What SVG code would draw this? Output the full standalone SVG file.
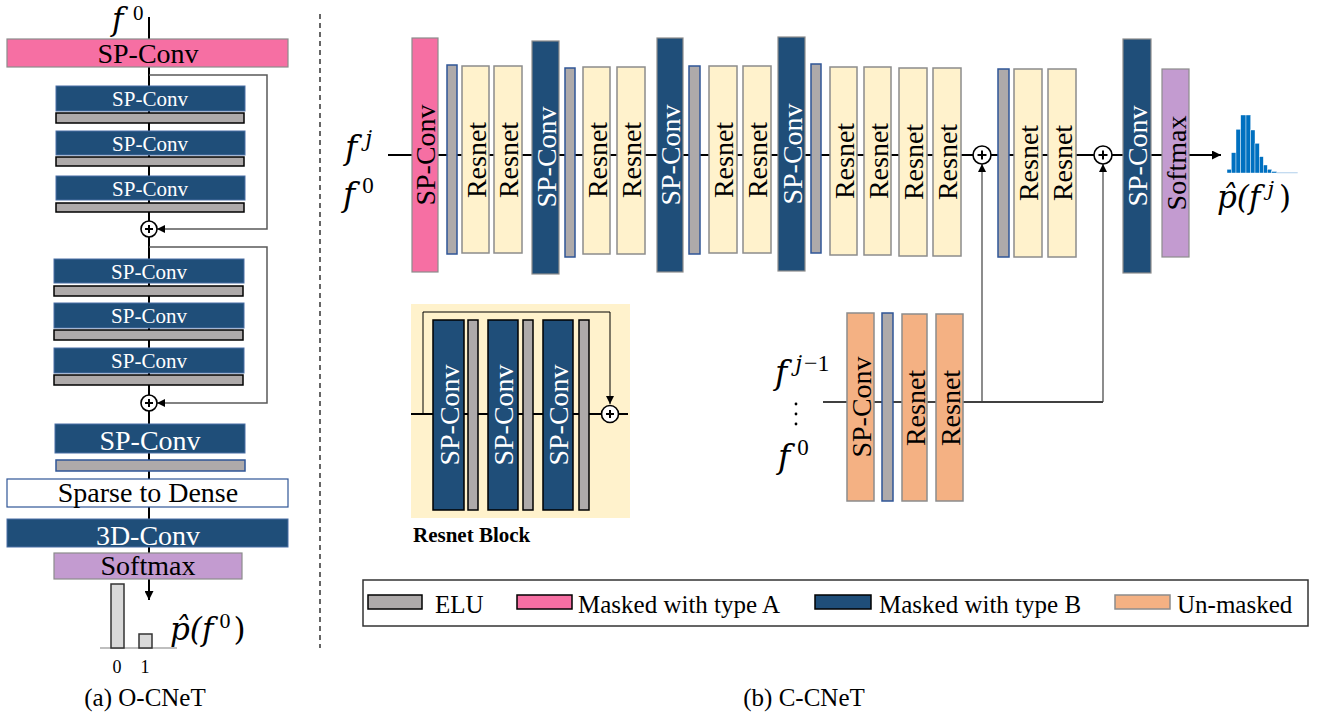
<svg xmlns="http://www.w3.org/2000/svg" width="1318" height="719" viewBox="0 0 1318 719">
<defs>
<marker id="arr" viewBox="0 0 10 10" refX="10" refY="5" markerWidth="10" markerHeight="9" markerUnits="userSpaceOnUse" orient="auto"><path d="M0,0 L10,5 L0,10 z" fill="#000"/></marker>
<marker id="arrs" viewBox="0 0 10 10" refX="10" refY="5" markerWidth="9" markerHeight="8" markerUnits="userSpaceOnUse" orient="auto"><path d="M0,0 L10,5 L0,10 z" fill="#000"/></marker>
</defs>
<style>
text{font-family:"Liberation Serif","Times New Roman",serif;}
.pink{fill:#f66fa3;stroke:#8c8c8c;stroke-width:1.2}
.blueL{fill:#1f4e79;stroke:#4a6fa5;stroke-width:1}
.blueR{fill:#1f4e79;stroke:#8c8c8c;stroke-width:1.2}
.blueK{fill:#1f4e79;stroke:#000;stroke-width:1.5}
.eluK{fill:#aeaaaa;stroke:#000;stroke-width:1.5}
.eluB{fill:#aeaaaa;stroke:#2f5597;stroke-width:1.5}
.res{fill:#fff2cc;stroke:#8c8c8c;stroke-width:1.5}
.soft{fill:#c39bd0;stroke:#8c8c8c;stroke-width:1.2}
.org{fill:#f4b183;stroke:#8c8c8c;stroke-width:1.5}
.lbl{font-size:28px;fill:#000;text-anchor:middle}
.lblw{font-size:28px;fill:#fff;text-anchor:middle}
.sm{font-size:21px;fill:#fff;text-anchor:middle}
.v{font-size:28px;fill:#000;text-anchor:middle;dominant-baseline:central}
.vw{font-size:28px;fill:#fff;text-anchor:middle;dominant-baseline:central}
text.math{font-family:"DejaVu Serif","Liberation Serif",serif;font-style:italic;fill:#000}
.up{font-family:"Liberation Serif",serif;font-style:normal}
.leg{font-size:25px;fill:#000}
.cap{font-size:25px;fill:#000;text-anchor:middle}
.plus circle{fill:#fff;stroke:#000;stroke-width:1.6}
.plus path{stroke:#000;stroke-width:2}
.main{stroke:#000;stroke-width:2;fill:none}
.skip{stroke:#595959;stroke-width:1.5;fill:none}
.thin{stroke:#404040;stroke-width:1.2;fill:none}
</style>
<rect width="1318" height="719" fill="#fff"/>

<!-- connectors -->
<g id="connectors">
<line class="main" x1="149" y1="17" x2="149" y2="600" marker-end="url(#arr)"/>
<polyline class="skip" points="149,75 267,75 267,229 157,229" marker-end="url(#arrs)"/>
<polyline class="skip" points="149,247 267,247 267,403 157,403" marker-end="url(#arrs)"/>
<line class="main" x1="388" y1="155" x2="1221" y2="155" marker-end="url(#arr)"/>
<line class="main" x1="823" y1="402" x2="1103" y2="402" style="stroke-width:1.6"/>
<line class="thin" x1="982" y1="402" x2="982" y2="164" marker-end="url(#arrs)"/>
<line class="thin" x1="1103" y1="402" x2="1103" y2="164" marker-end="url(#arrs)"/>
<line x1="320" y1="14" x2="320" y2="648" stroke="#000" stroke-width="1.2" stroke-dasharray="5 4"/>
</g>

<!-- Left panel: O-CNeT -->
<g id="a-title"><text class="math" x="112" y="30" font-size="31">f</text><text x="133" y="20" font-size="21">0</text></g>
<g id="a-spconv-top"><rect class="pink" x="7" y="39" width="281" height="28"/><text class="lbl" x="148" y="63">SP-Conv</text></g>
<g id="a-sp1"><rect class="blueL" x="56" y="86" width="189" height="25"/><text class="sm" x="150" y="106">SP-Conv</text></g>
<g id="a-elu1"><rect class="eluK" x="56" y="113" width="188" height="10"/></g>
<g id="a-sp2"><rect class="blueL" x="56" y="131" width="189" height="24"/><text class="sm" x="150" y="151">SP-Conv</text></g>
<g id="a-elu2"><rect class="eluK" x="56" y="157" width="188" height="9"/></g>
<g id="a-sp3"><rect class="blueL" x="56" y="176" width="189" height="24"/><text class="sm" x="150" y="196">SP-Conv</text></g>
<g id="a-elu3"><rect class="eluK" x="56" y="203" width="188" height="9"/></g>
<g id="a-plus1" class="plus"><circle cx="149" cy="229" r="8"/><path d="M145,229 H153 M149,225 V233"/></g>
<g id="a-sp4"><rect class="blueL" x="54" y="259" width="190" height="24"/><text class="sm" x="149" y="279">SP-Conv</text></g>
<g id="a-elu4"><rect class="eluK" x="54" y="286" width="189" height="10"/></g>
<g id="a-sp5"><rect class="blueL" x="54" y="303" width="190" height="25"/><text class="sm" x="149" y="323">SP-Conv</text></g>
<g id="a-elu5"><rect class="eluK" x="54" y="330" width="189" height="10"/></g>
<g id="a-sp6"><rect class="blueL" x="54" y="348" width="190" height="25"/><text class="sm" x="149" y="368">SP-Conv</text></g>
<g id="a-elu6"><rect class="eluK" x="54" y="375" width="189" height="10"/></g>
<g id="a-plus2" class="plus"><circle cx="149" cy="403" r="8"/><path d="M145,403 H153 M149,399 V407"/></g>
<g id="a-sp7"><rect class="blueL" x="55" y="424" width="190" height="29"/><text class="lblw" x="150" y="450">SP-Conv</text></g>
<g id="a-elu7"><rect class="eluB" x="56" y="460" width="189" height="11"/></g>
<g id="a-s2d"><rect x="7" y="479" width="281" height="28" fill="#fff" stroke="#2f5597" stroke-width="1.2"/><text class="lbl" x="148" y="502">Sparse to Dense</text></g>
<g id="a-3d"><rect class="blueL" x="7" y="519" width="281" height="28"/><text class="lblw" x="148" y="545">3D-Conv</text></g>
<g id="a-softmax"><rect class="soft" x="54" y="553" width="188" height="26"/><text class="lbl" x="148" y="575">Softmax</text></g>
<g id="a-hist">
<line x1="100" y1="648" x2="177" y2="648" stroke="#808080" stroke-width="1.2"/>
<rect x="111" y="584" width="13" height="64" fill="#d9d9d9" stroke="#333" stroke-width="1.5"/>
<rect x="139" y="634" width="13" height="14" fill="#d9d9d9" stroke="#333" stroke-width="1.5"/>
<text x="117" y="673" font-size="18" text-anchor="middle">0</text>
<text x="145" y="673" font-size="18" text-anchor="middle">1</text>
</g>
<g id="a-out"><text class="math" x="170" y="640" font-size="31">p̂(f<tspan class="up" font-size="22" dx="6" dy="-12">0</tspan><tspan dx="3" dy="12" font-style="normal">)</tspan></text></g>
<g id="a-caption"><text class="cap" x="145" y="706">(a) O-CNeT</text></g>

<!-- Right panel: C-CNeT main row -->
<g id="b-in"><text class="math" x="345" y="159" font-size="33">f<tspan font-size="22" dx="8" dy="-13">j</tspan></text>
<text class="math" x="343" y="206" font-size="33">f<tspan class="up" font-size="23" dx="7" dy="-13">0</tspan></text></g>
<g id="b-sp0"><rect class="pink" x="412" y="38" width="26" height="234"/><text class="v" transform="translate(425,155) rotate(-90)">SP-Conv</text></g>
<g id="b-elu0"><rect class="eluB" x="447" y="65" width="10" height="189"/></g>
<g id="b-r1"><rect class="res" x="462" y="66" width="27" height="187"/><text class="v" transform="translate(476,160) rotate(-90)">Resnet</text></g>
<g id="b-r2"><rect class="res" x="494" y="66" width="28" height="187"/><text class="v" transform="translate(508,160) rotate(-90)">Resnet</text></g>
<g id="b-sp1"><rect class="blueR" x="532" y="41" width="27" height="233"/><text class="vw" transform="translate(546,157) rotate(-90)">SP-Conv</text></g>
<g id="b-elu1"><rect class="eluB" x="565" y="68" width="10" height="189"/></g>
<g id="b-r3"><rect class="res" x="583" y="67" width="27" height="187"/><text class="v" transform="translate(597,160) rotate(-90)">Resnet</text></g>
<g id="b-r4"><rect class="res" x="617" y="67" width="28" height="187"/><text class="v" transform="translate(631,160) rotate(-90)">Resnet</text></g>
<g id="b-sp2"><rect class="blueR" x="657" y="38" width="26" height="234"/><text class="vw" transform="translate(670,155) rotate(-90)">SP-Conv</text></g>
<g id="b-elu2"><rect class="eluB" x="689" y="66" width="11" height="188"/></g>
<g id="b-r5"><rect class="res" x="709" y="66" width="28" height="187"/><text class="v" transform="translate(723,160) rotate(-90)">Resnet</text></g>
<g id="b-r6"><rect class="res" x="743" y="66" width="28" height="187"/><text class="v" transform="translate(757,160) rotate(-90)">Resnet</text></g>
<g id="b-sp3"><rect class="blueR" x="778" y="37" width="27" height="234"/><text class="vw" transform="translate(792,154) rotate(-90)">SP-Conv</text></g>
<g id="b-elu3"><rect class="eluB" x="811" y="64" width="10" height="189"/></g>
<g id="b-r7"><rect class="res" x="830" y="67" width="27" height="188"/><text class="v" transform="translate(844,161) rotate(-90)">Resnet</text></g>
<g id="b-r8"><rect class="res" x="864" y="67" width="27" height="188"/><text class="v" transform="translate(878,161) rotate(-90)">Resnet</text></g>
<g id="b-r9"><rect class="res" x="899" y="68" width="28" height="188"/><text class="v" transform="translate(913,162) rotate(-90)">Resnet</text></g>
<g id="b-r10"><rect class="res" x="933" y="68" width="28" height="188"/><text class="v" transform="translate(947,162) rotate(-90)">Resnet</text></g>
<g id="b-plus1" class="plus"><circle cx="982" cy="155" r="9"/><path d="M977.5,155 H986.5 M982,150.5 V159.5"/></g>
<g id="b-elu4"><rect class="eluB" x="998" y="69" width="11" height="188"/></g>
<g id="b-r11"><rect class="res" x="1014" y="69" width="28" height="188"/><text class="v" transform="translate(1028,163) rotate(-90)">Resnet</text></g>
<g id="b-r12"><rect class="res" x="1048" y="69" width="28" height="188"/><text class="v" transform="translate(1062,163) rotate(-90)">Resnet</text></g>
<g id="b-plus2" class="plus"><circle cx="1103" cy="155" r="9"/><path d="M1098.5,155 H1107.5 M1103,150.5 V159.5"/></g>
<g id="b-sp4"><rect class="blueR" x="1123" y="39" width="28" height="234"/><text class="vw" transform="translate(1137,156) rotate(-90)">SP-Conv</text></g>
<g id="b-softmax"><rect class="soft" x="1162" y="69" width="27" height="188"/><text class="v" transform="translate(1176,163) rotate(-90)">Softmax</text></g>
<g id="b-hist" fill="#0070c0" stroke="#fff" stroke-width="0.4">
<rect x="1227" y="169.3" width="4.3" height="3.7"/>
<rect x="1231.3" y="152.7" width="4.7" height="20.3"/>
<rect x="1236" y="129.3" width="4.7" height="43.7"/>
<rect x="1240.7" y="115" width="5.3" height="58"/>
<rect x="1246" y="115" width="4.7" height="58"/>
<rect x="1250.7" y="130" width="4.3" height="43"/>
<rect x="1255" y="143.3" width="4.3" height="29.7"/>
<rect x="1259.3" y="156.7" width="4" height="16.3"/>
<rect x="1263.3" y="165" width="4" height="8"/>
<rect x="1267.3" y="169.3" width="4.4" height="3.7"/>
<rect x="1271.7" y="171.5" width="5" height="1.5"/>
<rect x="1276.7" y="172.4" width="21" height="0.8" stroke="none" fill="#9dc3e6"/>
</g>
<g id="b-out"><text class="math" x="1217" y="208" font-size="31">p̂(f<tspan font-size="21" dx="7" dy="-12">j</tspan><tspan dx="5" dy="12" font-style="normal">)</tspan></text></g>

<!-- lower branch -->
<g id="b-in2"><text class="math" x="775" y="384" font-size="33">f<tspan font-size="22" dx="8" dy="-13">j</tspan><tspan class="up" font-size="24" dx="2">−1</tspan></text>
<circle cx="796" cy="404" r="1.4"/><circle cx="796" cy="414" r="1.4"/><circle cx="796" cy="424" r="1.4"/>
<text class="math" x="778" y="468" font-size="33">f<tspan class="up" font-size="23" dx="7" dy="-13">0</tspan></text></g>
<g id="c-sp"><rect class="org" x="847" y="313" width="27" height="188"/><text class="v" transform="translate(861,407) rotate(-90)">SP-Conv</text></g>
<g id="c-elu"><rect class="eluB" x="882" y="313" width="11" height="188"/></g>
<g id="c-r1"><rect class="org" x="902" y="314" width="25" height="187"/><text class="v" transform="translate(915,408) rotate(-90)">Resnet</text></g>
<g id="c-r2"><rect class="org" x="936" y="314" width="27" height="187"/><text class="v" transform="translate(950,408) rotate(-90)">Resnet</text></g>

<!-- Resnet block -->
<g id="resnet-block">
<rect x="411" y="304" width="219" height="214" fill="#fff2cc"/>
<line x1="411" y1="414" x2="628" y2="414" stroke="#000" stroke-width="2"/>
<polyline points="423,414 423,312 610,312 610,404" fill="none" stroke="#000" stroke-width="1" marker-end="url(#arrs)"/>
<rect class="blueK" x="433" y="320" width="31" height="190"/><text class="vw" transform="translate(449,415) rotate(-90)">SP-Conv</text>
<rect class="eluK" x="468" y="320" width="10" height="190"/>
<rect class="blueK" x="488" y="320" width="30" height="190"/><text class="vw" transform="translate(503,415) rotate(-90)">SP-Conv</text>
<rect class="eluK" x="523" y="320" width="10" height="190"/>
<rect class="blueK" x="543" y="320" width="30" height="190"/><text class="vw" transform="translate(558,415) rotate(-90)">SP-Conv</text>
<rect class="eluK" x="579" y="320" width="10" height="190"/>
<g class="plus"><circle cx="610" cy="414" r="8.5"/><path d="M606,414 H614 M610,410 V418"/></g>
<text x="413" y="542" font-size="21" font-weight="bold">Resnet Block</text>
</g>

<!-- legend -->
<g id="legend">
<rect x="363" y="580" width="945" height="46" fill="#fff" stroke="#333" stroke-width="1.5"/>
<rect class="eluK" x="368" y="595" width="54" height="14"/><text class="leg" x="435" y="613">ELU</text>
<rect x="517" y="595" width="55" height="14" fill="#f66fa3" stroke="#000" stroke-width="1.5"/><text class="leg" x="578" y="613">Masked with type A</text>
<rect class="blueK" x="815" y="595" width="56" height="14"/><text class="leg" x="879" y="613">Masked with type B</text>
<rect class="org" x="1115" y="595" width="55" height="14"/><text class="leg" x="1177" y="613">Un-masked</text>
</g>
<g id="b-caption"><text class="cap" x="804" y="706">(b) C-CNeT</text></g>
</svg>
